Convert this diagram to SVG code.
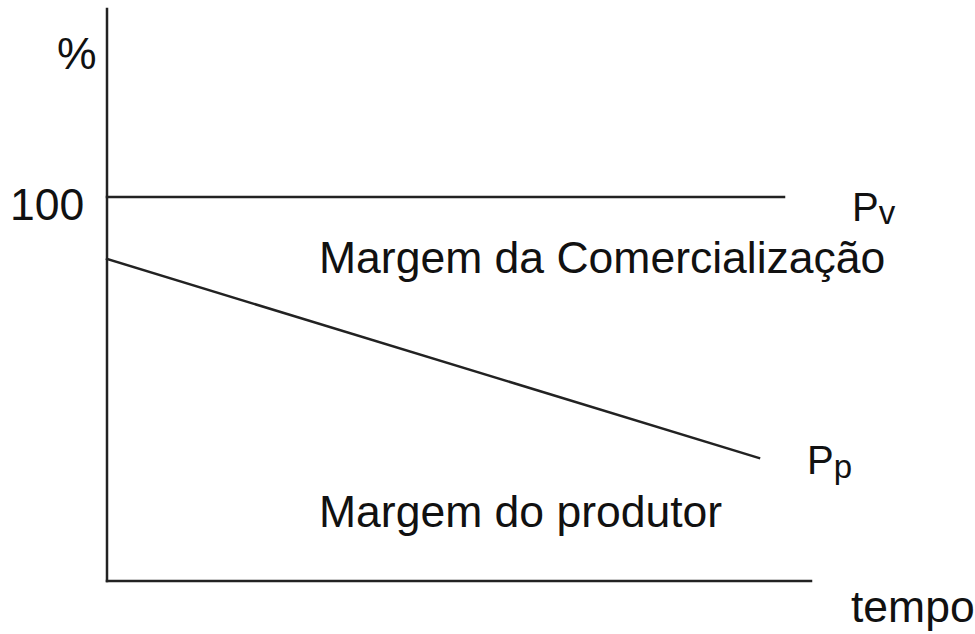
<svg xmlns="http://www.w3.org/2000/svg" width="975" height="634" viewBox="0 0 975 634">
<style>
.ax{stroke:#222;stroke-width:2.5;fill:none;stroke-linecap:square}
.t{font-family:"Liberation Sans",Arial,sans-serif;font-size:44.5px;fill:#111}
.s{font-family:"Liberation Sans",Arial,sans-serif;font-size:33px;fill:#111}
</style>
<rect width="975" height="634" fill="#fff"/>
<g id="connectors">
<line class="ax" x1="107" y1="9" x2="107" y2="581"/>
<line class="ax" x1="107" y1="581" x2="811" y2="581"/>
<line class="ax" x1="107" y1="197" x2="784" y2="197"/>
<line class="ax" x1="107" y1="259" x2="759" y2="458"/>
</g>
<g id="labels">
<text class="t" x="57" y="69">%</text>
<text class="t" x="10" y="220">100</text>
<text id="pv" x="852" y="221"><tspan class="t" style="font-size:40px">P</tspan><tspan class="s" dy="3">v</tspan></text>
<text class="t" x="319" y="273">Margem da Comercialização</text>
<text id="pp" x="807" y="474"><tspan class="t" style="font-size:40px">P</tspan><tspan class="s" dy="4">p</tspan></text>
<text class="t" x="319" y="527">Margem do produtor</text>
<text class="t" x="851" y="622">tempo</text>
</g>
</svg>
